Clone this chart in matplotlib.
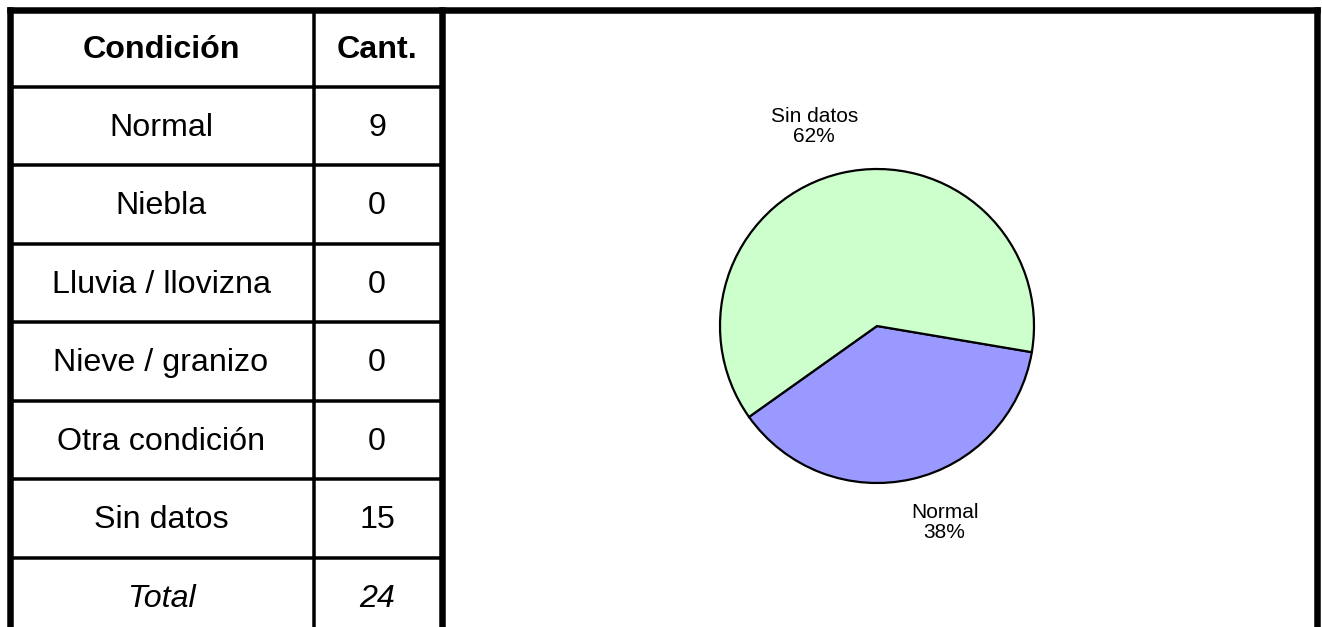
import matplotlib.pyplot as plt

plt.rcParams['font.family'] = ['Liberation Sans', 'DejaVu Sans']

condiciones = ['Normal', 'Niebla', 'Lluvia / llovizna', 'Nieve / granizo', 'Otra condición', 'Sin datos']
cantidades = [9, 0, 0, 0, 0, 15]
pie_labels = ['Normal', 'Sin datos']
pie_values = [9, 15]
pie_colors = ['#9999FF', '#CCFFCC']

W, H = 1322, 627
fig = plt.figure(figsize=(W / 100, H / 100), dpi=100)

# frame + table drawn in pixel coords
ax = fig.add_axes([0, 0, 1, 1])
ax.set_xlim(0, W)
ax.set_ylim(H, 0)
ax.axis('off')

px = 72 / 100  # points per pixel
thick = 6.5 * px
thin = 3.5 * px
fs = 23.2

# outer border (no bottom)
ax.plot([10, 10], [H + 5, 10], color='black', lw=thick, solid_capstyle='projecting')
ax.plot([10, 1317], [10, 10], color='black', lw=thick, solid_capstyle='projecting')
ax.plot([1317, 1317], [10, H + 5], color='black', lw=thick, solid_capstyle='projecting')
ax.plot([441.5, 441.5], [10, H + 5], color='black', lw=thick)
ax.plot([313.5, 313.5], [10, H + 5], color='black', lw=thin)

col1_x, col2_x = 161, 377
header_bot = 86.5
row_h = 78.5
ax.plot([10, 441.5], [header_bot, header_bot], color='black', lw=thin)
ax.text(col1_x, 50, 'Condición', ha='center', va='center', fontsize=fs, fontweight='bold')
ax.text(col2_x, 50, 'Cant.', ha='center', va='center', fontsize=fs, fontweight='bold')

rows = list(zip(condiciones, cantidades)) + [('Total', sum(cantidades))]
for i, (name, val) in enumerate(rows):
    top = header_bot + i * row_h
    yc = top + row_h / 2 + 2
    style = 'italic' if name == 'Total' else 'normal'
    ax.text(col1_x, yc, name, ha='center', va='center', fontsize=fs, style=style)
    ax.text(col2_x, yc, str(val), ha='center', va='center', fontsize=fs, style=style)
    if i < len(rows) - 1:
        yb = top + row_h
        ax.plot([10, 441.5], [yb, yb], color='black', lw=thin)

# pie
cx, cy, r = 877, 326, 157
pax = fig.add_axes([(cx - r) / W, (H - cy - r) / H, 2 * r / W, 2 * r / H])
wedges, texts = pax.pie(pie_values, colors=pie_colors, startangle=-9.6, counterclock=False,
                        wedgeprops=dict(edgecolor='black', linewidth=1.6),
                        labels=[f'{l}\n{round(v / sum(pie_values) * 100)}%' for l, v in zip(pie_labels, pie_values)],
                        labeldistance=1.3, textprops=dict(fontsize=15, linespacing=1.1))
for t in texts:
    t.set_ha('center')
    t.set_va('center')
texts[0].set_position((0.43, -1.25))
texts[1].set_position((-0.40, 1.27))
pax.set_xlim(-1, 1)
pax.set_ylim(-1, 1)
pax.set_aspect('equal')

fig.savefig('out.png', dpi=100)
